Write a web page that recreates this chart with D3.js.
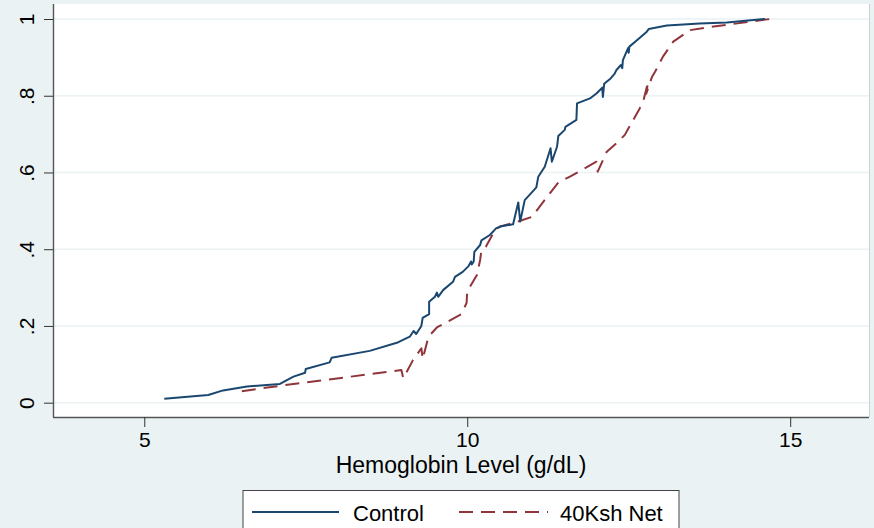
<!DOCTYPE html>
<html>
<head>
<meta charset="utf-8">
<script src="https://cdn.jsdelivr.net/npm/d3@7"></script>
<style>
  html, body { margin: 0; padding: 0; background: #eaf2f3; }
  svg { display: block; }
  text { font-family: "Liberation Sans", Arial, sans-serif; fill: #000; }
</style>
</head>
<body>
<svg id="chart" width="874" height="528"></svg>
<script>
// Cumulative share of children by hemoglobin level (g/dL)
const controlHb  = [5.31, 5.99, 6.22, 6.59, 7.10, 7.31, 7.49, 7.50, 7.87, 7.90, 8.49, 8.91, 9.11, 9.17, 9.21, 9.29, 9.31, 9.41, 9.41, 9.50, 9.53, 9.55, 9.63, 9.78, 9.81, 9.93, 10.02, 10.06, 10.07, 10.10, 10.11, 10.20, 10.22, 10.35, 10.45, 10.51, 10.71, 10.79, 10.82, 10.89, 11.00, 11.07, 11.10, 11.20, 11.29, 11.31, 11.39, 11.41, 11.51, 11.52, 11.69, 11.70, 11.90, 12.00, 12.09, 12.10, 12.12, 12.22, 12.28, 12.31, 12.38, 12.40, 12.41, 12.49, 12.50, 12.51, 12.60, 12.78, 12.81, 13.09, 13.60, 14.02, 14.61];
const controlCum = [0.010, 0.020, 0.032, 0.042, 0.049, 0.068, 0.078, 0.088, 0.105, 0.117, 0.135, 0.156, 0.172, 0.187, 0.179, 0.200, 0.221, 0.231, 0.263, 0.276, 0.287, 0.276, 0.294, 0.315, 0.328, 0.341, 0.356, 0.368, 0.360, 0.368, 0.393, 0.411, 0.423, 0.437, 0.455, 0.459, 0.465, 0.522, 0.472, 0.528, 0.548, 0.561, 0.589, 0.615, 0.663, 0.628, 0.667, 0.695, 0.711, 0.719, 0.737, 0.780, 0.793, 0.806, 0.821, 0.797, 0.831, 0.845, 0.857, 0.867, 0.880, 0.872, 0.893, 0.924, 0.912, 0.928, 0.941, 0.967, 0.974, 0.983, 0.988, 0.991, 1.000];

const netHb  = [6.51, 7.10, 8.98, 9.01, 9.16, 9.29, 9.31, 9.40, 9.53, 9.91, 9.99, 10.00, 10.15, 10.20, 10.22, 10.29, 10.43, 10.51, 10.82, 11.00, 11.18, 11.41, 11.59, 12.00, 12.02, 12.16, 12.31, 12.44, 12.54, 12.67, 12.73, 12.80, 12.77, 12.86, 12.91, 13.03, 13.19, 13.45, 13.71, 14.69];
const netCum = [0.030, 0.044, 0.085, 0.064, 0.111, 0.142, 0.114, 0.172, 0.196, 0.231, 0.260, 0.290, 0.333, 0.372, 0.398, 0.407, 0.450, 0.459, 0.474, 0.484, 0.524, 0.574, 0.589, 0.628, 0.602, 0.654, 0.676, 0.698, 0.728, 0.767, 0.789, 0.836, 0.805, 0.849, 0.863, 0.902, 0.941, 0.971, 0.978, 1.000];

const xTicks = [5, 10, 15];
const yTicks = [0, 0.2, 0.4, 0.6, 0.8, 1];
const yTickLabels = ["0", ".2", ".4", ".6", ".8", "1"];

const seriesNames = ["Control", "40Ksh Net"];
const seriesColors = ["#1a476f", "#90353b"];

const svg = d3.select("#chart");
const W = 874, H = 528;
const plot = { left: 53, right: 869, top: 4, bottom: 417 };

const x = d3.scaleLinear().domain([3.587, 16.22]).range([plot.left, plot.right]);
const y = d3.scaleLinear().domain([-0.0373, 1.0391]).range([plot.bottom, plot.top]);

// page background
svg.append("rect").attr("width", W).attr("height", H).attr("fill", "#eaf2f3");

// plot region
svg.append("rect")
  .attr("x", plot.left).attr("y", plot.top)
  .attr("width", plot.right - plot.left).attr("height", plot.bottom - plot.top)
  .attr("fill", "#ffffff");
svg.append("line")
  .attr("x1", plot.right + 0.5).attr("x2", plot.right + 0.5)
  .attr("y1", plot.top).attr("y2", plot.bottom)
  .attr("stroke", "#c9d3d6").attr("stroke-width", 1);

// horizontal grid
svg.append("g").selectAll("line").data(yTicks).join("line")
  .attr("x1", plot.left).attr("x2", plot.right)
  .attr("y1", d => y(d)).attr("y2", d => y(d))
  .attr("stroke", "#eaf2f3").attr("stroke-width", 1.6);

// y axis
const yAxis = svg.append("g")
  .attr("transform", `translate(${plot.left},0)`)
  .call(d3.axisLeft(y).tickValues(yTicks).tickSize(9).tickPadding(10)
    .tickFormat((d, i) => yTickLabels[i]));
yAxis.select(".domain").attr("d", `M0.5,${plot.top}V${plot.bottom}`)
  .attr("stroke", "#555").attr("stroke-width", 1.4);
yAxis.selectAll(".tick line").attr("stroke", "#333").attr("stroke-width", 1);
yAxis.selectAll(".tick text")
  .attr("font-size", 21)
  .attr("x", null).attr("dy", null)
  .attr("text-anchor", "middle")
  .attr("transform", "translate(-19,0) rotate(-90)");

// x axis
const xAxis = svg.append("g")
  .attr("transform", `translate(0,${plot.bottom})`)
  .call(d3.axisBottom(x).tickValues(xTicks).tickSize(10).tickPadding(5)
    .tickFormat(d3.format("d")));
xAxis.select(".domain").attr("d", `M${plot.left},0.5H${plot.right}`)
  .attr("stroke", "#555").attr("stroke-width", 1.4);
xAxis.selectAll(".tick line").attr("stroke", "#333").attr("stroke-width", 1);
xAxis.selectAll(".tick text").attr("font-size", 21).attr("dy", "0.71em");

svg.append("text")
  .attr("x", 461).attr("y", 473)
  .attr("text-anchor", "middle").attr("font-size", 23)
  .text("Hemoglobin Level (g/dL)");

// cumulative curves
const line = d3.line().x(d => x(d[0])).y(d => y(d[1]));
const controlPts = d3.zip(controlHb, controlCum);
const netPts = d3.zip(netHb, netCum);

svg.append("path").datum(netPts)
  .attr("d", line).attr("fill", "none")
  .attr("stroke", seriesColors[1]).attr("stroke-width", 2)
  .attr("stroke-dasharray", "14,8").attr("stroke-linejoin", "round");

svg.append("path").datum(controlPts)
  .attr("d", line).attr("fill", "none")
  .attr("stroke", seriesColors[0]).attr("stroke-width", 2)
  .attr("stroke-linejoin", "round");

// legend
const lg = svg.append("g");
lg.append("rect")
  .attr("x", 243).attr("y", 490.5).attr("width", 436).attr("height", 60)
  .attr("fill", "#ffffff").attr("stroke", "#444").attr("stroke-width", 1);
const legendItems = [
  { x1: 252, x2: 339, tx: 353, dash: null },
  { x1: 459, x2: 548, tx: 560, dash: "14,8" }
];
legendItems.forEach((it, i) => {
  lg.append("line")
    .attr("x1", it.x1).attr("x2", it.x2).attr("y1", 512).attr("y2", 512)
    .attr("stroke", seriesColors[i]).attr("stroke-width", 2)
    .attr("stroke-dasharray", it.dash);
  lg.append("text")
    .attr("x", it.tx).attr("y", 520.5).attr("font-size", 22)
    .text(seriesNames[i]);
});
</script>
</body>
</html>
